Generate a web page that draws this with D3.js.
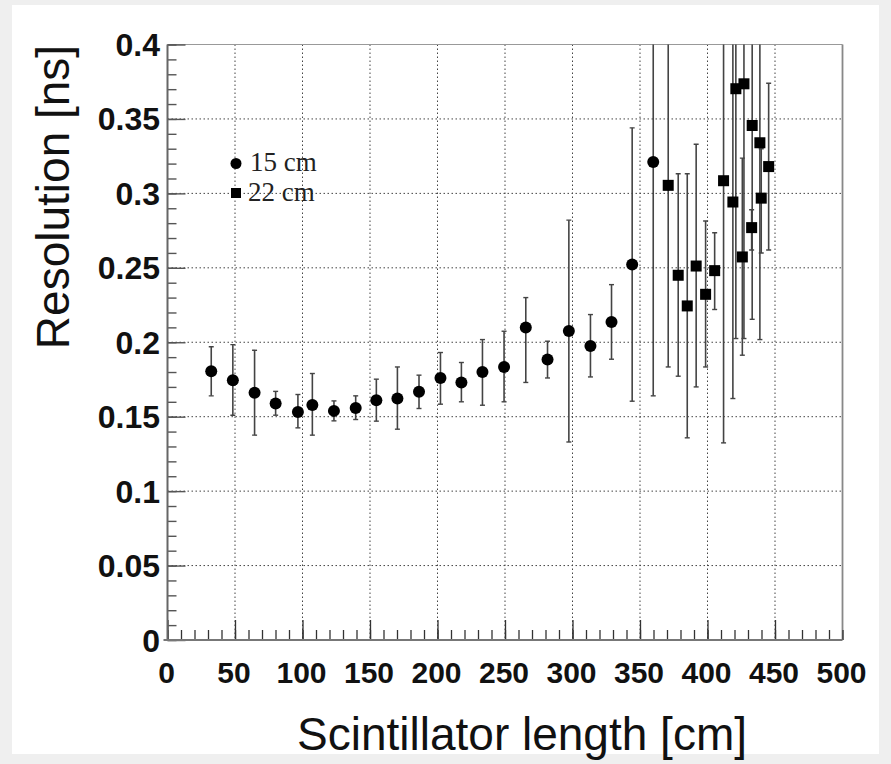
<!DOCTYPE html>
<html><head><meta charset="utf-8">
<script src="https://cdn.jsdelivr.net/npm/d3@7"></script>
<style>html,body{margin:0;padding:0;background:#efefef;}svg{display:block;}</style>
</head><body>
<svg id="c" width="891" height="764"></svg>
<script>
// ---- data ----
const circleX  = [32.4, 48.4, 64.5, 80.1, 96.6, 107.3, 123.3, 139.4, 154.7, 170.3, 186.3, 202.2, 217.7, 233.3, 249.3, 265.4, 281.5, 297.3, 313.3, 328.9, 344.2, 359.8];
const circleY  = [0.1805, 0.1745, 0.166, 0.1588, 0.1532, 0.1579, 0.1539, 0.1559, 0.161, 0.1622, 0.1667, 0.176, 0.173, 0.180, 0.1834, 0.2099, 0.1884, 0.2076, 0.1975, 0.2136, 0.2523, 0.321];
const circleHi = [0.197, 0.1984, 0.1946, 0.167, 0.1649, 0.179, 0.1606, 0.164, 0.1752, 0.1834, 0.1779, 0.1931, 0.1864, 0.2018, 0.2074, 0.230, 0.2007, 0.282, 0.2186, 0.2387, 0.344, 0.45];
const circleLo = [0.164, 0.151, 0.1376, 0.151, 0.1425, 0.1376, 0.1472, 0.1481, 0.147, 0.1416, 0.1555, 0.1584, 0.160, 0.1577, 0.160, 0.173, 0.176, 0.133, 0.1767, 0.1886, 0.1604, 0.164];

const squareX  = [370.9, 378.3, 385.0, 391.6, 398.6, 405.3, 411.9, 418.8, 421.0, 425.8, 427.0, 432.7, 433.1, 438.8, 439.8, 445.3];
const squareY  = [0.3054, 0.245, 0.2244, 0.2512, 0.2322, 0.2481, 0.3085, 0.2942, 0.3703, 0.2573, 0.3736, 0.277, 0.3456, 0.334, 0.2968, 0.318];
const squareHi = [0.45, 0.3132, 0.3132, 0.333, 0.2814, 0.2736, 0.45, 0.45, 0.45, 0.3237, 0.45, 0.289, 0.45, 0.45, 0.33, 0.374];
const squareLo = [0.1834, 0.1772, 0.1358, 0.17, 0.1834, 0.222, 0.1324, 0.1622, 0.2025, 0.1913, 0.2025, 0.262, 0.2154, 0.2018, 0.26, 0.262];

const xTicks = [0, 50, 100, 150, 200, 250, 300, 350, 400, 450, 500];
const yTicks = [0, 0.05, 0.1, 0.15, 0.2, 0.25, 0.3, 0.35, 0.4];
const yTickLabels = ["0", "0.05", "0.1", "0.15", "0.2", "0.25", "0.3", "0.35", "0.4"];
const legendLabels = ["15 cm", "22 cm"];
const xTitle = "Scintillator length [cm]";
const yTitle = "Resolution [ns]";

// ---- layout ----
const L = 167.5, R = 842.5, T = 44.5, B = 640;
const x = d3.scaleLinear().domain([0, 500]).range([L, R]);
const y = d3.scaleLinear().domain([0, 0.4]).range([B, T]);

const svg = d3.select("#c");
svg.append("rect").attr("x", 0).attr("y", 0).attr("width", 891).attr("height", 764).attr("fill", "#efefef");
svg.append("rect").attr("x", 12).attr("y", 5).attr("width", 867).attr("height", 749).attr("fill", "#ffffff");

svg.append("defs").append("clipPath").attr("id", "plot")
  .append("rect").attr("x", L).attr("y", T).attr("width", R - L).attr("height", B - T);

// grid
const grid = svg.append("g");
grid.selectAll("line.gx").data(xTicks.filter(d => d > 0 && d < 500)).enter().append("line")
  .attr("x1", d => x(d)).attr("x2", d => x(d)).attr("y1", T).attr("y2", B)
  .attr("stroke", "#444").attr("stroke-width", 1).attr("stroke-dasharray", "1.5,2.5");
grid.selectAll("line.gy").data(yTicks.filter(d => d > 0 && d < 0.4)).enter().append("line")
  .attr("x1", L).attr("x2", R).attr("y1", d => y(d)).attr("y2", d => y(d))
  .attr("stroke", "#444").attr("stroke-width", 1).attr("stroke-dasharray", "1.5,2.5");

// frame
svg.append("line").attr("x1", L).attr("x2", R).attr("y1", T).attr("y2", T).attr("stroke", "#999").attr("stroke-width", 1.2);
svg.append("line").attr("x1", R).attr("x2", R).attr("y1", T).attr("y2", B).attr("stroke", "#888").attr("stroke-width", 1.8);

// axes with d3
const xMinor = d3.range(0, 501, 10);
const yMinor = d3.range(0, 0.4001, 0.01);
const xAxisMinor = d3.axisTop(x).tickValues(xMinor).tickSize(10).tickFormat("");
const xAxisMajor = d3.axisTop(x).tickValues(xTicks.filter(d => d < 500)).tickSize(20).tickFormat("");
const gxm = svg.append("g").attr("transform", `translate(0,${B})`).call(xAxisMinor);
const gxM = svg.append("g").attr("transform", `translate(0,${B})`).call(xAxisMajor);
[gxm, gxM].forEach(g => { g.select(".domain").remove(); g.selectAll("line").attr("stroke", "#333").attr("stroke-width", 1.3); });

const yAxisMinor = d3.axisRight(y).tickValues(yMinor).tickSize(9).tickFormat("");
const yAxisMajor = d3.axisRight(y).tickValues(yTicks).tickSize(18).tickFormat("");
const gym = svg.append("g").attr("transform", `translate(${L},0)`).call(yAxisMinor);
const gyM = svg.append("g").attr("transform", `translate(${L},0)`).call(yAxisMajor);
[gym, gyM].forEach(g => { g.select(".domain").remove(); g.selectAll("line").attr("stroke", "#555").attr("stroke-width", 1.4); });

svg.append("line").attr("x1", L).attr("x2", L).attr("y1", T).attr("y2", B).attr("stroke", "#666").attr("stroke-width", 2);
svg.append("line").attr("x1", L - 4).attr("x2", R).attr("y1", B).attr("y2", B).attr("stroke", "#777").attr("stroke-width", 2);

// tick labels
const lab = svg.append("g").attr("font-family", "Liberation Sans, Arial, sans-serif").attr("font-weight", "bold").attr("fill", "#111");
lab.selectAll("text.xl").data(xTicks).enter().append("text")
  .attr("font-size", 30).attr("x", d => x(d) - 1).attr("y", 683).attr("text-anchor", "middle").text(d => d);
lab.selectAll("text.yl").data(yTicks).enter().append("text")
  .attr("font-size", 32).attr("x", 160).attr("y", d => y(d) + 11.5).attr("text-anchor", "end").text((d, i) => yTickLabels[i]);

// titles
svg.append("text").attr("x", 522).attr("y", 750).attr("text-anchor", "middle")
  .attr("font-family", "Liberation Sans, Arial, sans-serif").attr("font-size", 46).attr("fill", "#111").text(xTitle);
svg.append("text").attr("transform", "translate(69,197) rotate(-90)").attr("text-anchor", "middle")
  .attr("font-family", "Liberation Sans, Arial, sans-serif").attr("font-size", 46).attr("fill", "#111").text(yTitle);

// data
const plot = svg.append("g").attr("clip-path", "url(#plot)");
const circles = circleX.map((d, i) => ({x: d, y: circleY[i], lo: circleLo[i], hi: circleHi[i]}));
const squares = squareX.map((d, i) => ({x: d, y: squareY[i], lo: squareLo[i], hi: squareHi[i]}));
const all = circles.concat(squares);

plot.selectAll("line.eb").data(all).enter().append("line")
  .attr("x1", d => x(d.x)).attr("x2", d => x(d.x)).attr("y1", d => y(d.lo)).attr("y2", d => y(d.hi))
  .attr("stroke", "#444").attr("stroke-width", 1.6);
plot.selectAll("line.cl").data(all).enter().append("line")
  .attr("x1", d => x(d.x) - 2.5).attr("x2", d => x(d.x) + 2.5).attr("y1", d => y(d.lo)).attr("y2", d => y(d.lo))
  .attr("stroke", "#444").attr("stroke-width", 1.4);
plot.selectAll("line.ch").data(all.filter(d => d.hi < 0.4)).enter().append("line")
  .attr("x1", d => x(d.x) - 2.5).attr("x2", d => x(d.x) + 2.5).attr("y1", d => y(d.hi)).attr("y2", d => y(d.hi))
  .attr("stroke", "#444").attr("stroke-width", 1.4);

plot.selectAll("circle.pt").data(circles).enter().append("circle")
  .attr("cx", d => x(d.x)).attr("cy", d => y(d.y)).attr("r", 6).attr("fill", "#000");
plot.selectAll("rect.pt").data(squares).enter().append("rect")
  .attr("x", d => x(d.x) - 5.5).attr("y", d => y(d.y) - 5.5).attr("width", 11).attr("height", 11).attr("fill", "#000");

// legend
const lg = svg.append("g");
lg.append("circle").attr("cx", 236).attr("cy", 163.5).attr("r", 5.5).attr("fill", "#000");
lg.append("rect").attr("x", 231).attr("y", 188).attr("width", 10).attr("height", 10).attr("fill", "#000");
lg.selectAll("text").data(legendLabels).enter().append("text")
  .attr("x", (d, i) => i === 0 ? 250 : 248).attr("y", (d, i) => i === 0 ? 171 : 201)
  .attr("font-family", "Liberation Serif, Times New Roman, serif").attr("font-size", 27).attr("fill", "#222").text(d => d);
</script>
</body></html>
